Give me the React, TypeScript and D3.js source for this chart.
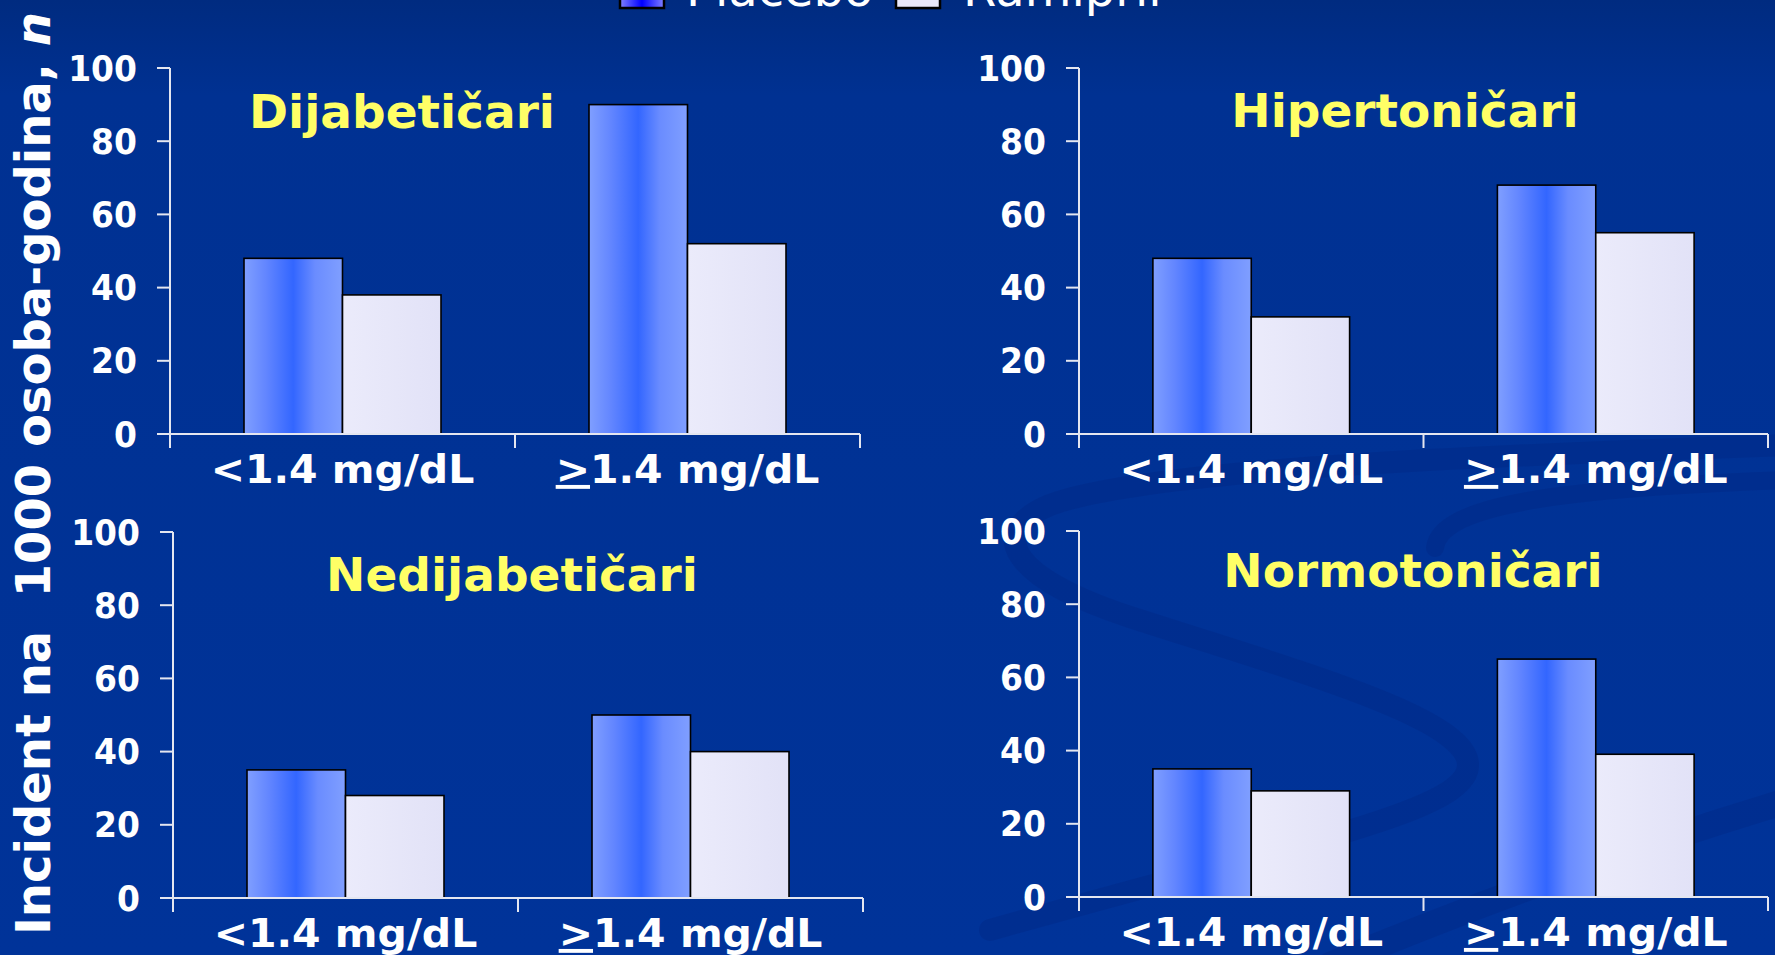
import * as d3 from "d3";

const W = 1775;
const H = 955;

// data
const panelTitles = ["Dijabetičari", "Hipertoničari", "Nedijabetičari", "Normotoničari"];
const categories = ["<1.4 mg/dL", "≥1.4 mg/dL"];
const seriesNames = ["Placebo", "Ramipril"];
const placeboValues = [
  [48, 90],
  [48, 68],
  [35, 50],
  [35, 65],
];
const ramiprilValues = [
  [38, 52],
  [32, 55],
  [28, 40],
  [29, 39],
];
const yTicks = [0, 20, 40, 60, 80, 100];
const yTitle = "Incident na  1000 osoba-godina, ";
const yTitleItalic = "n";

// layout of the four panels
const FRAMES = [
  { x0: 170, x1: 860, yTop: 68, yBase: 434, tx: 402, ty: 128 },
  { x0: 1079, x1: 1768, yTop: 68, yBase: 434, tx: 1405, ty: 127 },
  { x0: 173, x1: 863, yTop: 532, yBase: 898, tx: 512, ty: 591 },
  { x0: 1079, x1: 1768, yTop: 531, yBase: 897, tx: 1413, ty: 587 },
];

const FONT = "'DejaVu Sans', Verdana, sans-serif";
const AXIS = "#e4e6f0";
const TICK = 13;
const GROUP_FRAC = 0.571;

const Panel = ({ idx }: { idx: number }) => {
  const f = FRAMES[idx];
  const x = d3.scaleBand().domain(categories).range([f.x0, f.x1]).padding(0);
  const groupW = x.bandwidth() * GROUP_FRAC;
  const xi = d3.scaleBand().domain(seriesNames).range([0, groupW]).padding(0);
  const y = d3.scaleLinear().domain([0, 100]).range([f.yBase, f.yTop]);
  const vals = [placeboValues[idx], ramiprilValues[idx]];

  return (
    <g>
      {/* bars */}
      {categories.map((c, ci) => {
        const gx = (x(c) as number) + x.bandwidth() / 2 - groupW / 2;
        return seriesNames.map((s, si) => {
          const v = vals[si][ci];
          return (
            <rect
              key={c + s}
              x={gx + (xi(s) as number)}
              y={y(v)}
              width={xi.bandwidth()}
              height={y(0) - y(v)}
              fill={si === 0 ? "url(#placeboGrad)" : "url(#ramiprilGrad)"}
              stroke="#000"
              strokeWidth={1.6}
            />
          );
        });
      })}

      {/* y axis */}
      <line x1={f.x0} x2={f.x0} y1={y(100)} y2={f.yBase + 14} stroke={AXIS} strokeWidth={2} />
      {yTicks.map((t) => (
        <g key={t}>
          <line x1={f.x0 - TICK} x2={f.x0} y1={y(t)} y2={y(t)} stroke={AXIS} strokeWidth={2} />
          <text
            transform={`translate(${f.x0 - 33},${y(t) + 12.5}) scale(1,1.1)`}
            textAnchor="end"
            fontFamily={FONT}
            fontWeight="bold"
            fontSize={33}
            fill="#fff"
          >
            {t}
          </text>
        </g>
      ))}

      {/* x axis */}
      <line x1={f.x0 - TICK} x2={f.x1} y1={f.yBase} y2={f.yBase} stroke={AXIS} strokeWidth={2} />
      {[f.x0, f.x0 + x.bandwidth(), f.x1].map((tx) => (
        <line key={tx} x1={tx} x2={tx} y1={f.yBase} y2={f.yBase + 14} stroke={AXIS} strokeWidth={2} />
      ))}
      {categories.map((c) => {
        const cx = (x(c) as number) + x.bandwidth() / 2;
        const ge = c.startsWith("≥");
        return (
          <text
            key={c}
            transform={`translate(${cx},${f.yBase + 49}) scale(1,0.95)`}
            textAnchor="middle"
            fontFamily={FONT}
            fontWeight="bold"
            fontSize={41}
            fill="#fff"
          >
            {ge ? (
              <>
                <tspan style={{ textDecoration: "underline" }}>{">"}</tspan>
                <tspan>{c.slice(1)}</tspan>
              </>
            ) : (
              c
            )}
          </text>
        );
      })}

      {/* title */}
      <text
        x={f.tx}
        y={f.ty}
        textAnchor="middle"
        fontFamily={FONT}
        fontWeight="bold"
        fontSize={47}
        fill="#ffff66"
      >
        {panelTitles[idx]}
      </text>
    </g>
  );
};

const App = () => {
  return (
    <svg
      width={W}
      height={H}
      style={{ position: "absolute", left: 0, top: 0, display: "block" }}
    >
      <defs>
        <linearGradient id="bgGrad" x1="0" y1="0" x2="0" y2="1">
          <stop offset="0" stopColor="#002b80" />
          <stop offset="0.1" stopColor="#003192" />
          <stop offset="1" stopColor="#003399" />
        </linearGradient>
        <linearGradient id="placeboGrad" x1="0" y1="0" x2="1" y2="0">
          <stop offset="0" stopColor="#809fff" />
          <stop offset="0.22" stopColor="#6386ff" />
          <stop offset="0.5" stopColor="#3366ff" />
          <stop offset="0.72" stopColor="#6a8cff" />
          <stop offset="1" stopColor="#809fff" />
        </linearGradient>
        <linearGradient id="ramiprilGrad" x1="0" y1="0" x2="1" y2="0">
          <stop offset="0" stopColor="#ebebfb" />
          <stop offset="1" stopColor="#e2e2f7" />
        </linearGradient>
        <linearGradient id="legendPlacebo" x1="0" y1="0" x2="1" y2="0">
          <stop offset="0" stopColor="#8080ff" />
          <stop offset="0.5" stopColor="#0000ff" />
          <stop offset="1" stopColor="#8080ff" />
        </linearGradient>
      </defs>

      <rect x={0} y={0} width={W} height={H} fill="url(#bgGrad)" />

      {/* faint background swirl */}
      <g fill="none" stroke="#00267f" strokeOpacity={0.3} strokeLinecap="round">
        <path
          d="M1790,445 C1500,455 1150,468 1050,505 C985,532 1010,578 1130,617 C1300,672 1468,718 1468,765 C1468,812 1300,842 990,930"
          strokeWidth={22}
        />
        <path d="M1435,548 C1440,505 1560,488 1790,480" strokeWidth={18} />
        <path d="M1330,965 C1500,895 1650,842 1790,800" strokeWidth={26} />
      </g>

      {/* legend (clipped at top, as in the source) */}
      <rect x={620} y={-36} width={44} height={44} fill="url(#legendPlacebo)" stroke="#000" strokeWidth={2.5} />
      <text x={686} y={6} fontFamily={FONT} fontSize={48} fill="#fff">
        {seriesNames[0]}
      </text>
      <rect x={896} y={-36} width={44} height={44} fill="#e8e8fa" stroke="#000" strokeWidth={2.5} />
      <text x={963} y={6} fontFamily={FONT} fontSize={48} fill="#fff">
        {seriesNames[1]}
      </text>

      {/* y axis title */}
      <text
        transform="translate(50,935) rotate(-90)"
        fontFamily={FONT}
        fontWeight="bold"
        fontSize={48}
        fill="#fff"
        style={{ whiteSpace: "pre" }}
      >
        {yTitle}
        <tspan fontStyle="italic">{yTitleItalic}</tspan>
      </text>

      {panelTitles.map((t, i) => (
        <Panel key={t} idx={i} />
      ))}
    </svg>
  );
};

export default App;
